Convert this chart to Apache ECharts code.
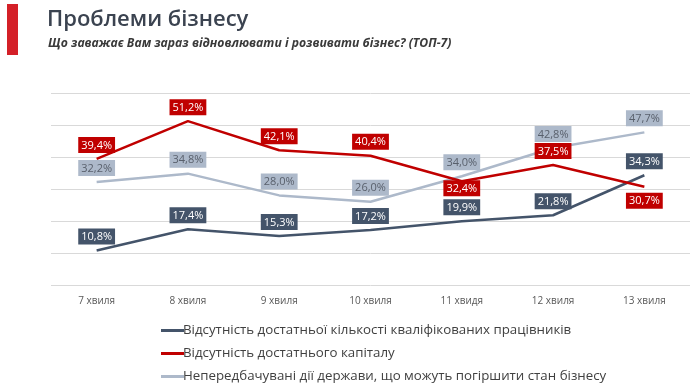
<!DOCTYPE html>
<html><head><meta charset="utf-8">
<script src="https://cdn.jsdelivr.net/npm/echarts@6/dist/echarts.min.js"></script>
<style>html,body{margin:0;padding:0;background:#fff}#c{width:690px;height:390px}</style>
</head><body><div id="c"></div>
<script>
const categories = ['7 хвиля','8 хвиля','9 хвиля','10 хвиля','11 хвидя','12 хвиля','13 хвиля'];
const seriesNames = [
  'Відсутність достатньої кількості кваліфікованих працівників',
  'Відсутність достатнього капіталу',
  'Непередбачувані дії держави, що можуть погіршити стан бізнесу'
];
const workers = [10.8, 17.4, 15.3, 17.2, 19.9, 21.8, 34.3];
const capital = [39.4, 51.2, 42.1, 40.4, 32.4, 37.5, 30.7];
const state = [32.2, 34.8, 28.0, 26.0, 34.0, 42.8, 47.7];

const colors = ['#44546a', '#c00000', '#adb9ca'];
const labelText = ['#ffffff', '#ffffff', '#59606c'];
// label placement overrides (index -> [position, distance])
const labelOverrides = [{}, {4: ['bottom', -1], 6: ['bottom', 6]}, {}];

function fmt(v){ return v.toFixed(1).replace('.', ',') + '%'; }

function mkSeries(i, vals){
  return {
    name: seriesNames[i], type: 'line', symbol: 'circle', symbolSize: 0.01, showSymbol: true,
    lineStyle: {color: colors[i], width: 2.5}, itemStyle: {color: colors[i]},
    z: i === 1 ? 4 : (i === 0 ? 3 : 2),
    data: vals.map((v, k) => {
      const o = labelOverrides[i][k];
      const d = {value: v};
      if (o) d.label = {position: o[0], distance: o[1]};
      return d;
    }),
    label: {
      show: true, position: 'top', distance: 6,
      formatter: p => fmt(p.value),
      backgroundColor: colors[i], color: labelText[i],
      fontFamily: 'Open Sans', fontSize: 11, padding: [3, 3, 2, 3]
    },
    labelLayout: {hideOverlap: false}
  };
}

const chart = echarts.init(document.getElementById('c'), null, {renderer: 'canvas'});
chart.setOption({
  animation: false,
  graphic: [
    {type: 'rect', shape: {x: 7, y: 4, width: 11, height: 51}, style: {fill: '#d42028'}},
    {type: 'text', left: 47, top: 9, style: {text: 'Проблеми бізнесу', font: '600 22px "Open Sans"', fill: '#3b4350'}},
    {type: 'text', left: 48, top: 38, style: {text: 'Що заважає Вам зараз відновлювати і розвивати бізнес? (ТОП-7)', font: 'italic 700 12.2px "Open Sans"', fill: '#3a3a3a'}}
  ],
  grid: {left: 51, top: 93, width: 651, height: 192},
  xAxis: {
    type: 'category', data: categories, boundaryGap: true,
    axisLine: {show: false}, axisTick: {show: false},
    axisLabel: {color: '#595959', fontFamily: 'Open Sans', fontSize: 10, margin: 11}
  },
  yAxis: {
    type: 'value', min: 0, max: 60, interval: 10,
    axisLabel: {show: false}, axisLine: {show: false}, axisTick: {show: false},
    splitLine: {lineStyle: {color: '#d9d9d9', width: 1}}
  },
  legend: {
    orient: 'vertical', left: 156, top: 319, itemGap: 10,
    itemWidth: 23, itemHeight: 3, icon: 'rect',
    textStyle: {color: '#404040', fontFamily: 'Open Sans', fontSize: 13.3, padding: [0,0,0,-6]},
    data: seriesNames
  },
  series: [mkSeries(0, workers), mkSeries(1, capital), mkSeries(2, state)]
});
</script></body></html>
